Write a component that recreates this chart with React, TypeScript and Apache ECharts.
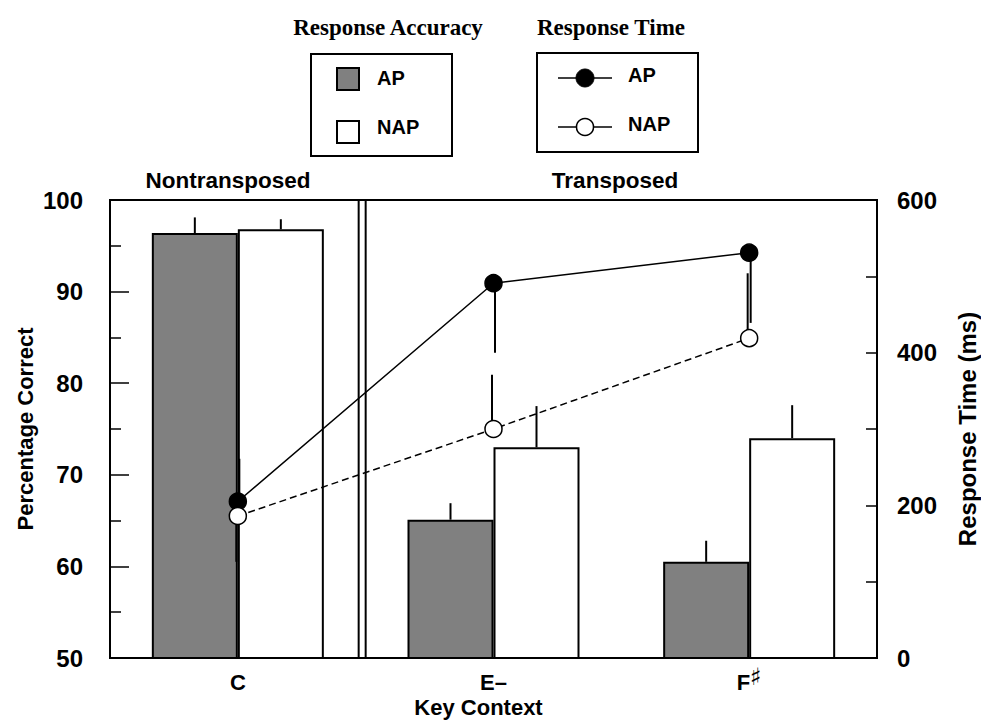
import React, { useEffect, useRef } from "react";
import * as echarts from "echarts";

// ---- data ----
const categories = ["C", "E–", "F♯"];
const accAP = [96.4, 65.1, 60.5];
const accNAP = [96.8, 73.0, 74.0];
const accAPErr = [1.7, 1.8, 2.3];
const accNAPErr = [1.1, 4.5, 3.6];
const rtAP = [205, 491, 531];
const rtNAP = [186, 300, 419];
// one-sided error bars, sign gives direction (+ up, - down)
const rtAPErr = [56, -91, -92];
const rtNAPErr = [-60, 71, 85];
const accTicks = [50, 60, 70, 80, 90, 100];
const rtTicks = [0, 200, 400, 600];
const groupLabels = ["Nontransposed", "Transposed"];
const legendTitles = ["Response Accuracy", "Response Time"];
const legendNames = ["AP", "NAP"];

const SANS = "'Liberation Sans', Arial, Helvetica, sans-serif";
const SERIF = "'Liberation Serif', 'Times New Roman', serif";
const BAR_W = 86;

export default function App() {
  const ref = useRef<HTMLDivElement>(null);

  useEffect(() => {
    if (!ref.current) return;
    const chart = echarts.init(ref.current, null, { renderer: "svg" });

    const accErrData = categories.flatMap((_, i) => [
      [i, accAP[i], accAP[i] + accAPErr[i], -1],
      [i, accNAP[i], accNAP[i] + accNAPErr[i], 1],
    ]);
    const rtErrData = categories.flatMap((_, i) => [
      [i, rtAP[i], rtAP[i] + rtAPErr[i], 1],
      [i, rtNAP[i], rtNAP[i] + rtNAPErr[i], -1],
    ]);

    const labelStyle = { color: "#000", fontFamily: SANS, fontWeight: "bold" as const };

    const option: any = {
      animation: false,
      backgroundColor: "#fff",
      grid: {
        left: 110,
        right: 104,
        top: 200,
        bottom: 70,
        show: true,
        borderColor: "#000",
        borderWidth: 2,
        backgroundColor: "transparent",
        containLabel: false,
        outerBoundsMode: "none",
      },
      xAxis: {
        type: "category",
        data: categories,
        boundaryGap: true,
        axisLine: { show: true, lineStyle: { color: "#000", width: 2 } },
        axisTick: { show: false },
        splitLine: { show: false },
        axisLabel: {
          ...labelStyle,
          fontSize: 22,
          lineHeight: 20,
          margin: 14,
          formatter: (v: string) => v.replace("♯", "{s|♯}"),
          rich: {
            s: {
              fontSize: 24,
              fontWeight: "bold",
              fontFamily: "'DejaVu Sans', sans-serif",
              color: "#000",
              padding: [0, 0, 10, 0],
            },
          },
        },
        name: "Key Context",
        nameLocation: "middle",
        nameGap: 38,
        nameMoveOverlap: false,
        nameTextStyle: { ...labelStyle, fontSize: 22, lineHeight: 22, padding: [0, 30, 0, 0] },
      },
      yAxis: [
        {
          type: "value",
          position: "left",
          min: accTicks[0],
          max: accTicks[accTicks.length - 1],
          interval: accTicks[1] - accTicks[0],
          axisLine: { show: true, lineStyle: { color: "#000", width: 2 } },
          axisTick: { show: true, inside: true, length: 19, lineStyle: { color: "#000", width: 1.5 } },
          minorTick: { show: true, splitNumber: 2, length: 11, lineStyle: { color: "#000", width: 1.5 } },
          splitLine: { show: false },
          axisLabel: { ...labelStyle, fontSize: 24, margin: 27 },
          name: "Percentage Correct",
          nameLocation: "middle",
          nameGap: 74,
          nameMoveOverlap: false,
          nameTextStyle: { ...labelStyle, fontSize: 22 },
        },
        {
          type: "value",
          position: "right",
          min: rtTicks[0],
          max: rtTicks[rtTicks.length - 1],
          interval: rtTicks[1] - rtTicks[0],
          axisLine: { show: true, lineStyle: { color: "#000", width: 2 } },
          axisTick: { show: true, inside: true, length: 11, lineStyle: { color: "#000", width: 1.5 } },
          minorTick: { show: true, splitNumber: 2, length: 11, lineStyle: { color: "#000", width: 1.5 } },
          splitLine: { show: false },
          axisLabel: { ...labelStyle, fontSize: 24, margin: 20 },
          name: "Response Time (ms)",
          nameLocation: "middle",
          nameGap: 78,
          nameMoveOverlap: false,
          nameTextStyle: { ...labelStyle, fontSize: 24 },
        },
      ],
      series: [
        {
          type: "bar",
          name: "AP accuracy",
          yAxisIndex: 0,
          data: accAP,
          barWidth: BAR_W,
          barGap: "0%",
          itemStyle: { color: "#808080", borderColor: "#000", borderWidth: 2 },
        },
        {
          type: "bar",
          name: "NAP accuracy",
          yAxisIndex: 0,
          data: accNAP,
          barWidth: BAR_W,
          barGap: "0%",
          itemStyle: { color: "#ffffff", borderColor: "#000", borderWidth: 2 },
        },
        {
          type: "custom",
          name: "accuracy error",
          yAxisIndex: 0,
          data: accErrData,
          encode: { x: 0, y: [1, 2] },
          z: 3,
          renderItem: (params: any, api: any) => {
            const i = api.value(0);
            const a = api.coord([i, api.value(1)]);
            const b = api.coord([i, api.value(2)]);
            const dx = (api.value(3) * BAR_W) / 2;
            return {
              type: "line",
              shape: { x1: a[0] + dx, y1: a[1], x2: b[0] + dx, y2: b[1] },
              style: { stroke: "#000", lineWidth: 2 },
            };
          },
        },
        {
          type: "custom",
          name: "time error",
          yAxisIndex: 1,
          data: rtErrData,
          encode: { x: 0, y: [1, 2] },
          z: 4,
          renderItem: (params: any, api: any) => {
            const i = api.value(0);
            const a = api.coord([i, api.value(1)]);
            const b = api.coord([i, api.value(2)]);
            const dx = api.value(3) * 1.5;
            return {
              type: "line",
              shape: { x1: a[0] + dx, y1: a[1], x2: b[0] + dx, y2: b[1] },
              style: { stroke: "#000", lineWidth: 2 },
            };
          },
        },
        {
          type: "line",
          name: "AP time",
          yAxisIndex: 1,
          data: rtAP,
          symbol: "circle",
          symbolSize: 17,
          z: 5,
          lineStyle: { color: "#000", width: 1.5 },
          itemStyle: { color: "#000", borderColor: "#000", borderWidth: 1.5 },
        },
        {
          type: "line",
          name: "NAP time",
          yAxisIndex: 1,
          data: rtNAP,
          symbol: "circle",
          symbolSize: 17,
          z: 5,
          lineStyle: { color: "#000", width: 1.5, type: [7, 4] },
          itemStyle: { color: "#fff", borderColor: "#000", borderWidth: 1.5 },
        },
      ],
    };

    chart.setOption(option);

    const x0 = chart.convertToPixel({ xAxisIndex: 0 }, categories[0]) as number;
    const x1 = chart.convertToPixel({ xAxisIndex: 0 }, categories[1]) as number;
    const yTop = chart.convertToPixel({ yAxisIndex: 0 }, accTicks[accTicks.length - 1]) as number;
    const yBot = chart.convertToPixel({ yAxisIndex: 0 }, accTicks[0]) as number;
    const mid = (x0 + x1) / 2;

    const txt = (text: string, x: number, y: number, size: number, family: string, align = "left") => ({
      type: "text",
      x,
      y,
      style: {
        text,
        fill: "#000",
        fontSize: size,
        fontWeight: "bold",
        fontFamily: family,
        align,
        verticalAlign: "middle",
        textAlign: align,
        textVerticalAlign: "middle",
      },
    });

    const elements: any[] = [
      // double separator line
      { type: "line", shape: { x1: mid - 7, y1: yTop, x2: mid - 7, y2: yBot }, style: { stroke: "#000", lineWidth: 2 } },
      { type: "line", shape: { x1: mid, y1: yTop, x2: mid, y2: yBot }, style: { stroke: "#000", lineWidth: 2 } },
      // group labels
      txt(groupLabels[0], 228, 180, 22.5, SANS, "center"),
      txt(groupLabels[1], 615, 180, 22.5, SANS, "center"),
      // legend titles
      txt(legendTitles[0], 388, 27, 23, SERIF, "center"),
      txt(legendTitles[1], 611, 27, 23, SERIF, "center"),
      // legend box 1
      { type: "rect", shape: { x: 311, y: 54, width: 141, height: 102 }, style: { fill: "#fff", stroke: "#000", lineWidth: 2 } },
      { type: "rect", shape: { x: 337, y: 68, width: 22, height: 22 }, style: { fill: "#808080", stroke: "#000", lineWidth: 2 } },
      txt(legendNames[0], 377, 78, 20, SANS),
      { type: "rect", shape: { x: 337, y: 121, width: 22, height: 22 }, style: { fill: "#fff", stroke: "#000", lineWidth: 2 } },
      txt(legendNames[1], 377, 127, 20, SANS),
      // legend box 2
      { type: "rect", shape: { x: 537, y: 53, width: 161, height: 99 }, style: { fill: "#fff", stroke: "#000", lineWidth: 2 } },
      { type: "line", shape: { x1: 558, y1: 78, x2: 612, y2: 78 }, style: { stroke: "#000", lineWidth: 1.5 } },
      { type: "circle", shape: { cx: 585, cy: 78, r: 9 }, style: { fill: "#000", stroke: "#000", lineWidth: 1 } },
      txt(legendNames[0], 628, 75, 20, SANS),
      { type: "line", shape: { x1: 558, y1: 127, x2: 612, y2: 127 }, style: { stroke: "#000", lineWidth: 1.5 } },
      { type: "circle", shape: { cx: 585, cy: 127, r: 8.5 }, style: { fill: "#fff", stroke: "#000", lineWidth: 1.5 } },
      txt(legendNames[1], 628, 124, 20, SANS),
    ];

    chart.setOption({ graphic: { elements } });

    return () => {
      chart.dispose();
    };
  }, []);

  return (
    <div
      ref={ref}
      style={{ position: "fixed", left: 0, top: 0, width: 981, height: 728, background: "#fff" }}
    />
  );
}
